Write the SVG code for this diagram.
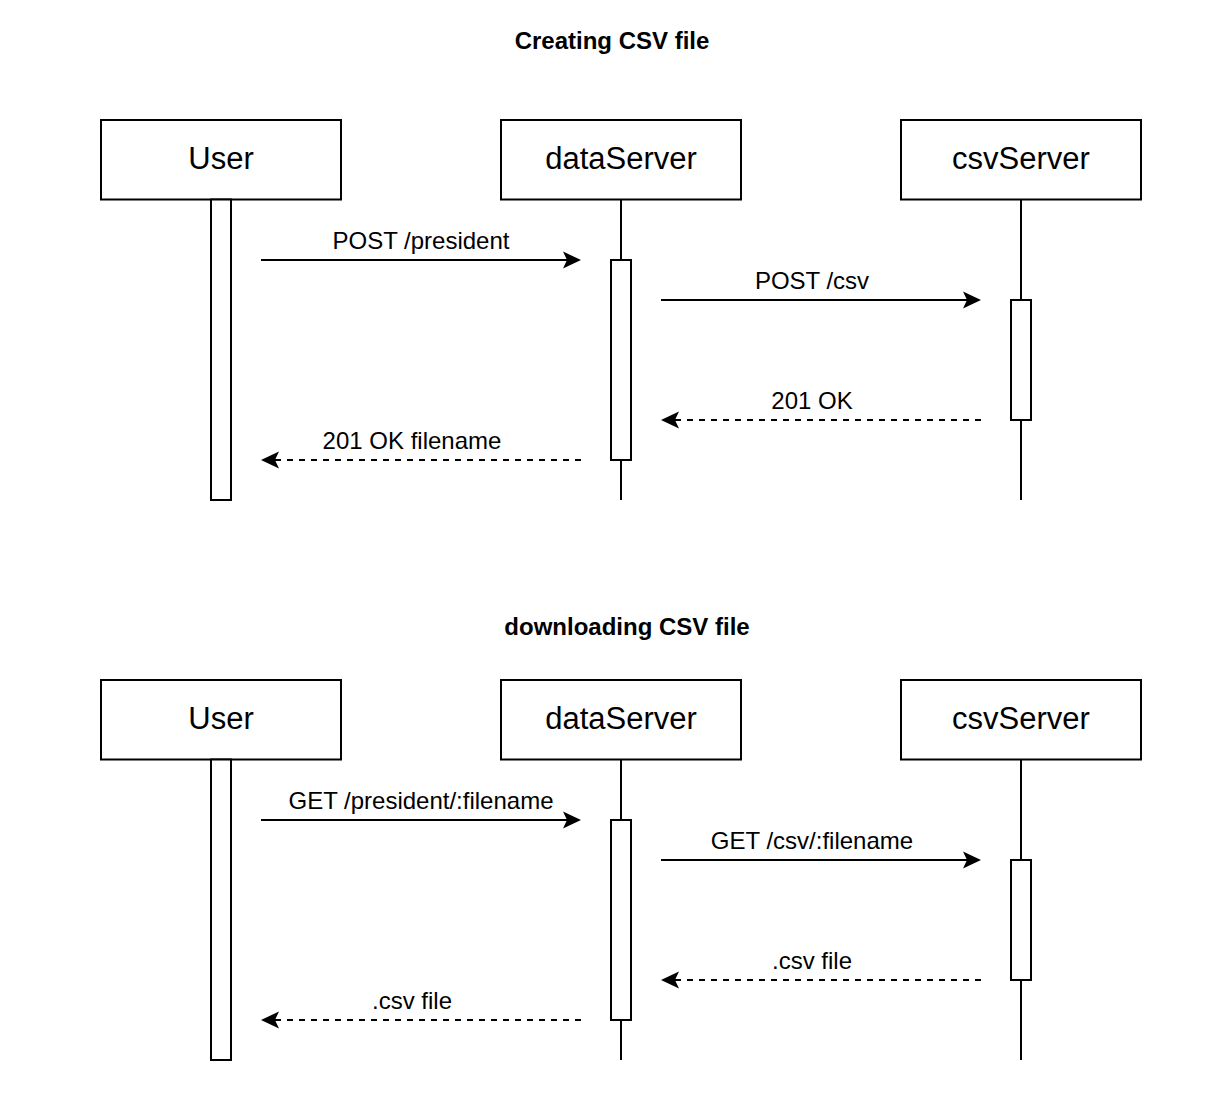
<svg xmlns="http://www.w3.org/2000/svg" width="1232" height="1097" viewBox="0 0 1232 1097">
<defs>
<style>
.box{fill:#fff;stroke:#000;stroke-width:2}
.life{stroke:#000;stroke-width:2;fill:none}
.act{fill:#fff;stroke:#000;stroke-width:2}
.msg{stroke:#000;stroke-width:2;fill:none}
.dash{stroke-dasharray:6 6}
.head{fill:#000;stroke:none}
.title{font-family:"Liberation Sans",Arial,Helvetica,sans-serif;font-weight:bold;font-size:24px;text-anchor:middle;fill:#000}
.name{font-family:"Liberation Sans",Arial,Helvetica,sans-serif;font-size:31px;text-anchor:middle;fill:#000}
.lbl{font-family:"Liberation Sans",Arial,Helvetica,sans-serif;font-size:24px;text-anchor:middle;fill:#000}
</style>
</defs>
<rect width="1232" height="1097" fill="#fff"/>

<text class="title" x="612" y="49">Creating CSV file</text>
<text class="title" x="627" y="635">downloading CSV file</text>

<!-- top section -->
<g id="user1">
<rect class="box" x="101" y="120" width="240" height="79.5"/>
<text class="name" x="221" y="169">User</text>
<rect class="act" x="211" y="199.5" width="20" height="300.5"/>
</g>
<g id="dataServer1">
<rect class="box" x="501" y="120" width="240" height="79.5"/>
<text class="name" x="621" y="169">dataServer</text>
<line class="life" x1="621" y1="199.5" x2="621" y2="500"/>
<rect class="act" x="611" y="260" width="20" height="200"/>
</g>
<g id="csvServer1">
<rect class="box" x="901" y="120" width="240" height="79.5"/>
<text class="name" x="1021" y="169">csvServer</text>
<line class="life" x1="1021" y1="199.5" x2="1021" y2="500"/>
<rect class="act" x="1011" y="300" width="20" height="120"/>
</g>

<!-- bottom section -->
<g id="user2">
<rect class="box" x="101" y="680" width="240" height="79.5"/>
<text class="name" x="221" y="729">User</text>
<rect class="act" x="211" y="759.5" width="20" height="300.5"/>
</g>
<g id="dataServer2">
<rect class="box" x="501" y="680" width="240" height="79.5"/>
<text class="name" x="621" y="729">dataServer</text>
<line class="life" x1="621" y1="759.5" x2="621" y2="1060"/>
<rect class="act" x="611" y="820" width="20" height="200"/>
</g>
<g id="csvServer2">
<rect class="box" x="901" y="680" width="240" height="79.5"/>
<text class="name" x="1021" y="729">csvServer</text>
<line class="life" x1="1021" y1="759.5" x2="1021" y2="1060"/>
<rect class="act" x="1011" y="860" width="20" height="120"/>
</g>

<g id="connectors">
<!-- top -->
<line class="msg" x1="261" y1="260" x2="568" y2="260"/>
<path class="head" d="M581 260 L563 251.5 L567 260 L563 268.5 Z"/>
<text class="lbl" x="421" y="249">POST /president</text>

<line class="msg" x1="661" y1="300" x2="968" y2="300"/>
<path class="head" d="M981 300 L963 291.5 L967 300 L963 308.5 Z"/>
<text class="lbl" x="812" y="289">POST /csv</text>

<line class="msg dash" x1="981" y1="420" x2="674" y2="420"/>
<path class="head" d="M661 420 L679 411.5 L675 420 L679 428.5 Z"/>
<text class="lbl" x="812" y="409">201 OK</text>

<line class="msg dash" x1="581" y1="460" x2="274" y2="460"/>
<path class="head" d="M261 460 L279 451.5 L275 460 L279 468.5 Z"/>
<text class="lbl" x="412" y="449">201 OK filename</text>

<!-- bottom -->
<line class="msg" x1="261" y1="820" x2="568" y2="820"/>
<path class="head" d="M581 820 L563 811.5 L567 820 L563 828.5 Z"/>
<text class="lbl" x="421" y="809">GET /president/:filename</text>

<line class="msg" x1="661" y1="860" x2="968" y2="860"/>
<path class="head" d="M981 860 L963 851.5 L967 860 L963 868.5 Z"/>
<text class="lbl" x="812" y="849">GET /csv/:filename</text>

<line class="msg dash" x1="981" y1="980" x2="674" y2="980"/>
<path class="head" d="M661 980 L679 971.5 L675 980 L679 988.5 Z"/>
<text class="lbl" x="812" y="969">.csv file</text>

<line class="msg dash" x1="581" y1="1020" x2="274" y2="1020"/>
<path class="head" d="M261 1020 L279 1011.5 L275 1020 L279 1028.5 Z"/>
<text class="lbl" x="412" y="1009">.csv file</text>
</g>
</svg>
